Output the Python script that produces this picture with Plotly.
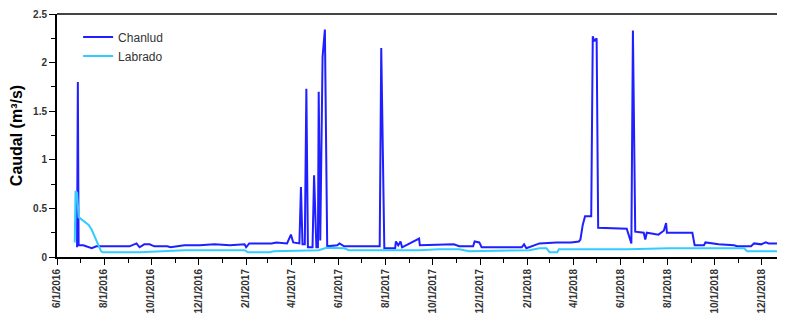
import plotly.graph_objects as go

# Chanlud discharge (m3/s)
chanlud_dates = [
    "2016-06-27", "2016-06-28", "2016-06-29", "2016-07-05", "2016-07-16", "2016-07-22",
    "2016-09-03", "2016-09-12", "2016-09-16", "2016-09-22", "2016-09-29", "2016-10-05",
    "2016-10-22", "2016-10-26", "2016-11-13", "2016-12-03", "2016-12-22", "2017-01-11",
    "2017-01-30", "2017-02-01", "2017-02-05", "2017-03-06", "2017-03-12", "2017-03-26",
    "2017-03-31", "2017-04-03", "2017-04-11", "2017-04-13", "2017-04-15", "2017-04-18",
    "2017-04-20", "2017-04-22", "2017-04-28", "2017-04-30", "2017-05-03", "2017-05-05",
    "2017-05-06", "2017-05-08", "2017-05-11", "2017-05-14", "2017-05-17", "2017-05-30",
    "2017-06-02", "2017-06-08", "2017-07-24", "2017-07-26", "2017-07-30", "2017-08-13",
    "2017-08-14", "2017-08-17", "2017-08-20", "2017-08-22", "2017-09-13", "2017-09-14",
    "2017-10-28", "2017-11-04", "2017-11-22", "2017-11-24", "2017-11-30", "2017-12-03",
    "2018-01-24", "2018-01-27", "2018-01-30", "2018-02-09", "2018-02-16", "2018-03-10",
    "2018-03-29", "2018-04-08", "2018-04-10", "2018-04-13", "2018-04-16", "2018-04-24",
    "2018-04-26", "2018-04-28", "2018-05-01", "2018-05-03", "2018-06-09", "2018-06-15",
    "2018-06-17", "2018-06-20", "2018-07-01", "2018-07-03", "2018-07-05", "2018-07-13",
    "2018-07-20", "2018-07-27", "2018-07-30", "2018-07-31", "2018-09-02", "2018-09-05",
    "2018-09-17", "2018-09-19", "2018-09-26", "2018-10-06", "2018-10-26", "2018-10-30",
    "2018-11-17", "2018-11-21", "2018-11-30", "2018-12-06", "2018-12-10", "2018-12-31",
]
chanlud_values = [
    0.10, 1.80, 0.12, 0.12, 0.09, 0.11,
    0.11, 0.14, 0.10, 0.13, 0.13, 0.11,
    0.11, 0.10, 0.12, 0.12, 0.13, 0.12,
    0.13, 0.10, 0.14, 0.14, 0.15, 0.14,
    0.23, 0.15, 0.14, 0.72, 0.13, 0.13,
    1.73, 0.10, 0.10, 0.84, 0.10, 0.10,
    1.70, 0.17, 2.06, 2.34, 0.11, 0.12,
    0.14, 0.11, 0.11, 2.15, 0.09, 0.09,
    0.16, 0.12, 0.16, 0.10, 0.19, 0.12,
    0.13, 0.11, 0.11, 0.16, 0.15, 0.10,
    0.10, 0.13, 0.09, 0.12, 0.14, 0.15,
    0.15, 0.16, 0.18, 0.33, 0.42, 0.42,
    2.27, 2.22, 2.25, 0.30, 0.29, 0.14,
    2.33, 0.26, 0.25, 0.18, 0.25, 0.24,
    0.23, 0.27, 0.35, 0.25, 0.25, 0.12,
    0.12, 0.15, 0.14, 0.13, 0.12, 0.11,
    0.11, 0.14, 0.13, 0.15, 0.14, 0.14,
]

# Labrado discharge (m3/s)
labrado_dates = [
    "2016-06-24", "2016-06-25", "2016-06-27", "2016-06-29", "2016-07-12", "2016-07-16",
    "2016-07-28", "2016-07-30", "2016-09-16", "2016-09-29", "2016-10-18", "2016-11-13",
    "2017-01-30", "2017-02-03", "2017-03-03", "2017-03-09", "2017-05-06", "2017-05-16",
    "2017-06-08", "2017-06-14", "2017-07-23", "2017-09-13", "2017-10-09", "2017-11-04",
    "2017-11-17", "2018-02-03", "2018-02-16", "2018-02-25", "2018-03-01", "2018-03-11",
    "2018-03-13", "2018-05-03", "2018-06-11", "2018-08-03", "2018-11-08", "2018-11-12",
    "2018-12-31",
]
labrado_values = [
    0.15, 0.68, 0.66, 0.41, 0.33, 0.28,
    0.06, 0.05, 0.05, 0.055, 0.06, 0.07,
    0.07, 0.05, 0.05, 0.06, 0.07, 0.095,
    0.09, 0.07, 0.07, 0.07, 0.08, 0.08,
    0.06, 0.07, 0.09, 0.09, 0.05, 0.05,
    0.08, 0.08, 0.08, 0.09, 0.09, 0.06,
    0.06,
]

FONT = "Arial, Liberation Sans, sans-serif"

fig = go.Figure()
fig.add_trace(go.Scatter(x=chanlud_dates, y=chanlud_values, mode="lines", name="Chanlud",
                         line=dict(color="#1f1fff", width=2)))
fig.add_trace(go.Scatter(x=labrado_dates, y=labrado_values, mode="lines", name="Labrado",
                         line=dict(color="#33ccff", width=2)))

fig.update_layout(
    width=777, height=313,
    margin=dict(l=49, r=0, t=6, b=64),
    paper_bgcolor="white", plot_bgcolor="white",
    font=dict(family=FONT, color="#333333"),
    showlegend=True,
    legend=dict(x=0.029, y=0.965, xanchor="left", yanchor="top",
                bgcolor="rgba(0,0,0,0)", font=dict(size=12, color="#333333"),
                tracegroupgap=0),
    xaxis=dict(
        type="date", range=["2016-06-01", "2018-12-31"],
        tick0="2016-06-01", dtick="M2", tickformat="%-m/%-d/%Y",
        tickangle=-90, tickfont=dict(size=10, color="#333333", family=FONT, weight="bold"),
        ticks="outside", ticklen=6, tickwidth=1, tickcolor="black",
        minor=dict(dtick="M1", ticks="outside", ticklen=4, tickcolor="black", tickwidth=1, showgrid=False),
        showline=True, linecolor="black", linewidth=2,
        showgrid=False, zeroline=False,
    ),
    yaxis=dict(
        range=[0, 2.5],
        tickvals=[0, 0.5, 1, 1.5, 2, 2.5], ticktext=["0", "0.5", "1", "1.5", "2", "2.5"],
        tickfont=dict(size=10, color="#333333", family=FONT, weight="bold"),
        ticks="outside", ticklen=6, tickwidth=1, tickcolor="black",
        minor=dict(tickvals=[0.25, 0.75, 1.25, 1.75, 2.25], ticks="outside", ticklen=4,
                   tickcolor="black", tickwidth=1, showgrid=False),
        showline=True, linecolor="black", linewidth=2,
        showgrid=False, zeroline=False,
        title=dict(text="Caudal (m³/s)", font=dict(size=16, color="black", family=FONT, weight="bold"),
                   standoff=6),
    ),
    shapes=[dict(type="line", xref="paper", yref="paper", x0=0, x1=1, y0=1, y1=1,
                 line=dict(color="#444444", width=2))],
)

fig.write_html("out.html")
